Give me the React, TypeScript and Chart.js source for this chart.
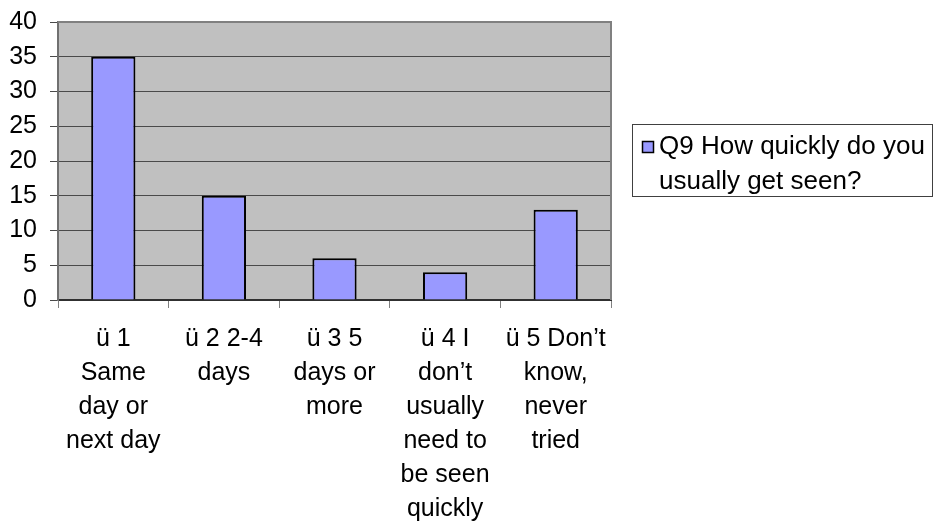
import React, { useEffect, useRef } from "react";
import { Chart, registerables } from "chart.js";

Chart.register(...registerables);

const categories: string[][] = [
  ["ü 1", "Same", "day or", "next day"],
  ["ü 2 2-4", "days"],
  ["ü 3 5", "days or", "more"],
  ["ü 4 I", "don’t", "usually", "need to", "be seen", "quickly"],
  ["ü 5 Don’t", "know,", "never", "tried"],
];
const values: number[] = [35, 15, 6, 4, 13];
const seriesName: string[] = ["Q9 How quickly do you", "usually get seen?"];
const yTicks: number[] = [0, 5, 10, 15, 20, 25, 30, 35, 40];

const FONT = "'Liberation Sans', Arial, sans-serif";

const plotDecor = {
  id: "plotDecor",
  beforeDraw(chart: any) {
    const { ctx, chartArea: a } = chart;
    ctx.save();
    ctx.fillStyle = "#ffffff";
    ctx.fillRect(0, 0, chart.width, chart.height);
    ctx.fillStyle = "#C0C0C0";
    ctx.fillRect(a.left, a.top, a.right - a.left, a.bottom - a.top);
    ctx.restore();
  },
  beforeDatasetsDraw(chart: any) {
    const { ctx, chartArea: a } = chart;
    ctx.save();
    ctx.strokeStyle = "#808080";
    ctx.lineWidth = 2;
    ctx.beginPath();
    ctx.moveTo(a.left, a.top);
    ctx.lineTo(a.right, a.top);
    ctx.lineTo(a.right, a.bottom);
    ctx.stroke();
    ctx.restore();
  },
  afterDraw(chart: any) {
    const { ctx } = chart;
    ctx.save();
    ctx.fillStyle = "#ffffff";
    ctx.fillRect(632, 124, 300, 73);
    ctx.strokeStyle = "#404040";
    ctx.lineWidth = 1;
    ctx.strokeRect(632.5, 124.5, 300, 72);
    ctx.fillStyle = "#9999FF";
    ctx.fillRect(642, 141, 12, 12);
    ctx.strokeStyle = "#000000";
    ctx.lineWidth = 1.5;
    ctx.strokeRect(642.5, 141.5, 11, 11);
    ctx.fillStyle = "#000000";
    ctx.font = `26px ${FONT}`;
    ctx.textBaseline = "middle";
    ctx.textAlign = "left";
    seriesName.forEach((line, i) => ctx.fillText(line, 659, 147 + i * 35));
    ctx.restore();
  },
};

export default function App() {
  const ref = useRef<HTMLCanvasElement>(null);
  useEffect(() => {
    if (!ref.current) return;
    const chart = new Chart(ref.current, {
      type: "bar",
      data: {
        labels: categories,
        datasets: [
          {
            label: seriesName.join(" "),
            data: values,
            backgroundColor: "#9999FF",
            borderColor: "#000000",
            borderWidth: 2,
            barPercentage: 0.4,
            categoryPercentage: 1,
          },
        ],
      },
      options: {
        responsive: false,
        animation: false,
        devicePixelRatio: 1,
        layout: { padding: { left: 0, top: 22, right: 327, bottom: 0 } },
        plugins: {
          legend: { display: false },
          tooltip: { enabled: false },
        },
        scales: {
          x: {
            offset: true,
            grid: {
              offset: true,
              drawOnChartArea: false,
              drawTicks: true,
              tickLength: 8,
              color: "#808080",
              lineWidth: 1,
            },
            border: { color: "#303030", width: 2 },
            ticks: {
              color: "#000000",
              font: { family: FONT, size: 25, lineHeight: 1.36 },
              padding: 14,
              maxRotation: 0,
              autoSkip: false,
            },
            afterFit(scale: any) {
              scale.height = 222;
              scale.paddingLeft = 0;
              scale.paddingRight = 0;
            },
          },
          y: {
            min: 0,
            max: 40,
            afterBuildTicks(scale: any) {
              scale.ticks = yTicks.map((v) => ({ value: v }));
            },
            grid: {
              color: "#4a4a4a",
              lineWidth: 1,
              tickLength: 8,
            },
            border: { color: "#707070", width: 2 },
            ticks: {
              color: "#000000",
              font: { family: FONT, size: 25 },
              padding: 13,
            },
            afterFit(scale: any) {
              scale.width = 58;
              scale.paddingTop = 0;
              scale.paddingBottom = 0;
            },
          },
        },
      },
      plugins: [plotDecor],
    });
    return () => chart.destroy();
  }, []);
  return (
    <div style={{ position: "absolute", left: 0, top: 0, width: 938, height: 522 }}>
      <canvas ref={ref} width={938} height={522} style={{ width: 938, height: 522 }} />
    </div>
  );
}
